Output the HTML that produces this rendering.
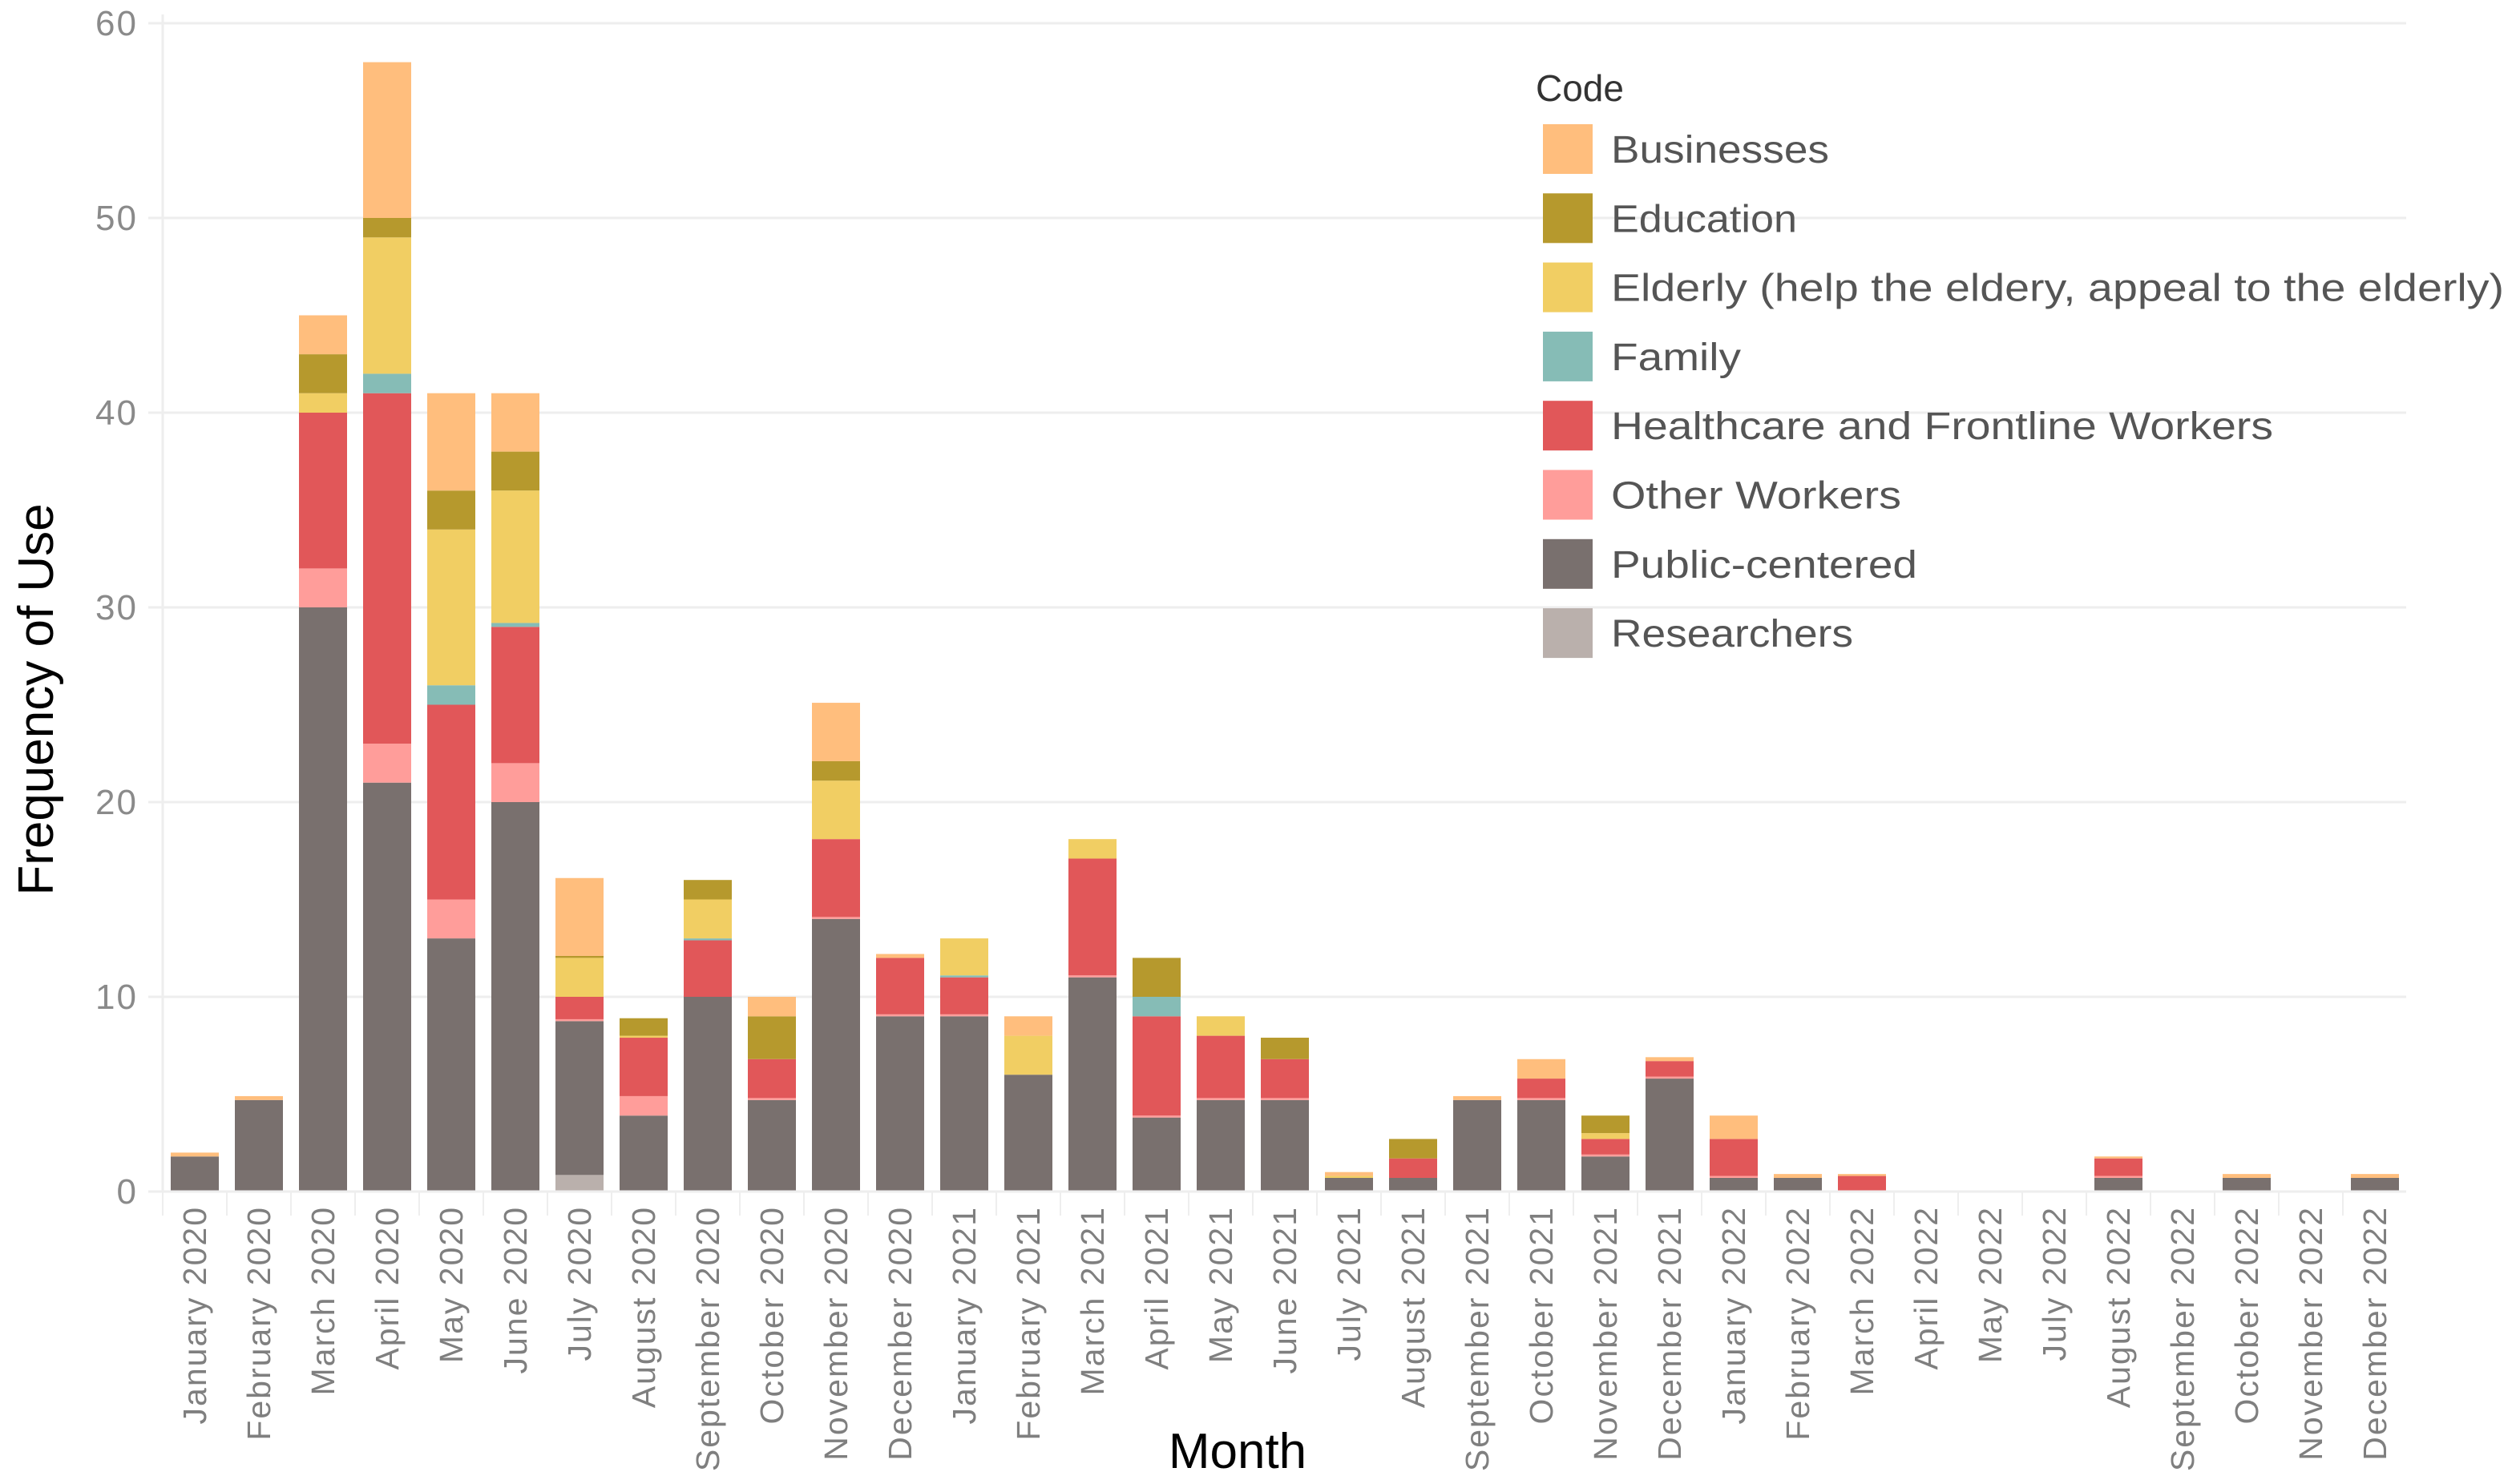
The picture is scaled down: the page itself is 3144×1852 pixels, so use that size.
<!DOCTYPE html>
<html><head><meta charset="utf-8"><style>
html,body{margin:0;padding:0;background:#fff;}
svg{display:block;}
</style></head><body>
<svg id="chart" xmlns="http://www.w3.org/2000/svg" width="3144" height="1852" viewBox="0 0 3144 1852" font-family="Liberation Sans, sans-serif">
<rect width="3144" height="1852" fill="#fff"/>
<g id="grid"></g>
<g id="yticks"></g>
<g id="bars"></g>
<g id="xticks"></g>
<text x="66" y="873" transform="rotate(-90 66 873)" text-anchor="middle" font-size="62" fill="#000">Frequency of Use</text>
<text x="1544" y="1832" text-anchor="middle" font-size="62" fill="#000">Month</text>
<g id="legend">
<text x="1916" y="126" font-size="46" fill="#333">Code</text>
</g>
</svg>
<script>
const months = ["January 2020","February 2020","March 2020","April 2020","May 2020","June 2020","July 2020","August 2020","September 2020","October 2020","November 2020","December 2020","January 2021","February 2021","March 2021","April 2021","May 2021","June 2021","July 2021","August 2021","September 2021","October 2021","November 2021","December 2021","January 2022","February 2022","March 2022","April 2022","May 2022","July 2022","August 2022","September 2022","October 2022","November 2022","December 2022"];
const seriesNames = ["Researchers","Public-centered","Other Workers","Healthcare and Frontline Workers","Family","Elderly (help the eldery, appeal to the elderly)","Education","Businesses"];
const researchers = [0,0,0,0,0,0,0.85,0,0,0,0,0,0,0,0,0,0,0,0,0,0,0,0,0,0,0,0,0,0,0,0,0,0,0,0];
const publicCentered = [1.8,4.7,30,21,13,20,7.9,3.9,10,4.7,14,9,9,6,11,3.8,4.7,4.7,0.7,0.7,4.7,4.7,1.8,5.8,0.7,0.7,0,0,0,0,0.7,0,0.7,0,0.7];
const otherWorkers = [0,0,2,2,2,2,0.1,1,0,0.1,0.1,0.1,0.1,0,0.1,0.1,0.1,0.1,0,0,0,0.1,0.1,0.1,0.1,0,0,0,0,0,0.1,0,0,0,0];
const healthcare = [0,0,8,18,10,7,1.15,3,2.9,2,4,2.9,1.9,0,6,5.1,3.2,2,0,1,0,1,0.8,0.8,1.9,0,0.8,0,0,0,0.9,0,0,0,0];
const family = [0,0,0,1,1,0.2,0,0,0.1,0,0,0,0.1,0,0,1,0,0,0,0,0,0,0,0,0,0,0,0,0,0,0,0,0,0,0];
const elderly = [0,0,1,7,8,6.8,2,0.1,2,0,3,0,1.9,2,1,0,1,0,0.1,0,0,0,0.3,0,0,0,0,0,0,0,0,0,0,0,0];
const education = [0,0,2,1,2,2,0.1,0.9,1,2.2,1,0,0,0,0,2,0,1.1,0,1,0,0,0.9,0,0,0,0,0,0,0,0,0,0,0,0];
const businesses = [0.2,0.2,2,8,5,3,4,0,0,1,3,0.2,0,1,0,0,0,0,0.2,0,0.2,1,0,0.2,1.2,0.2,0.1,0,0,0,0.1,0,0.2,0,0.2];
const yTicks = [0,10,20,30,40,50,60];
const legendOrder = ["Businesses","Education","Elderly (help the eldery, appeal to the elderly)","Family","Healthcare and Frontline Workers","Other Workers","Public-centered","Researchers"];

const series = [researchers,publicCentered,otherWorkers,healthcare,family,elderly,education,businesses];
const colors = {"Researchers":"#bab0ac","Public-centered":"#79706e","Other Workers":"#ff9d9a","Healthcare and Frontline Workers":"#e15759","Family":"#86bcb6","Elderly (help the eldery, appeal to the elderly)":"#f1ce63","Education":"#b6992d","Businesses":"#ffbe7d"};
const NS="http://www.w3.org/2000/svg";
const plotLeft=203, plotRight=3002, baseY=1487, unit=24.3;
const step=80, firstCenter=243, barW=60;
const y = v => baseY - v*unit;
const x = i => firstCenter + i*step;
function mk(tag, attrs, parent){const e=document.createElementNS(NS,tag);for(const k in attrs)e.setAttribute(k,attrs[k]);parent.appendChild(e);return e;}

const grid=document.getElementById('grid'), yt=document.getElementById('yticks');
const vline=mk('line',{x1:plotLeft,x2:plotLeft,y1:18,y2:baseY,stroke:'#eeeeee','stroke-width':3},grid);


yTicks.forEach(t=>{
  const g=mk('line',{x1:plotLeft-18,x2:plotRight,y1:y(t),y2:y(t),stroke:'#eeeeee','stroke-width':3},grid);
  
  
  const tx=mk('text',{x:172,y:y(t)+15,'text-anchor':'end','font-size':44,'letter-spacing':2,fill:'#8a8a8a'},yt);
  tx.textContent=t;
  
  
});

const bars=document.getElementById('bars'), xt=document.getElementById('xticks');
months.forEach((m,i)=>{
  let acc=0;
  series.forEach((s,k)=>{
    const v=s[i]; if(!v) return;
    const r=mk('rect',{x:x(i)-barW/2,y:y(acc+v),width:barW,height:v*unit,fill:colors[seriesNames[k]]},bars);
    
    
    acc+=v;
  });
  const tk=mk('line',{x1:x(i)-step/2,x2:x(i)-step/2,y1:baseY,y2:baseY+30,stroke:'#eeeeee','stroke-width':2},xt);
  
  
  const lx=x(i)+14, ly=baseY+18;
  const t=mk('text',{x:lx,y:ly,transform:`rotate(-90 ${lx} ${ly})`,'text-anchor':'end','font-size':41,'letter-spacing':2,fill:'#7f7f7f'},xt);
  t.textContent=m;
  
  
});
const base=mk('line',{x1:plotLeft-18,x2:plotRight,y1:baseY,y2:baseY,stroke:'#eeeeee','stroke-width':3},xt);



const lg=document.getElementById('legend');
legendOrder.forEach((n,i)=>{
  const cy=186+i*86.3;
  const sw=mk('rect',{x:1925,y:cy-31,width:62,height:62,fill:colors[n]},lg);
  
  
  const t=mk('text',{x:2010,y:cy+17,'font-size':48,fill:'#555'},lg);
  t.textContent=n;
  
  
  const w={0:272,1:232,2:1114,3:162,4:826,5:362,6:382,7:302}[i];
  t.setAttribute('textLength',w);
  t.setAttribute('lengthAdjust','spacingAndGlyphs');
});
</script>
</body></html>
